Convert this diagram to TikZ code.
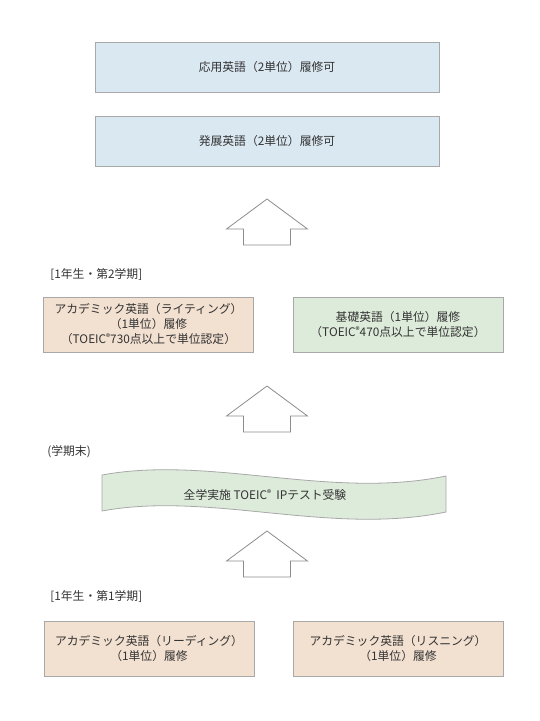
\documentclass[tikz,border=0pt]{standalone}
\usepackage{fontspec}
\setmainfont{Noto Sans CJK JP}
\definecolor{courseblue}{HTML}{DAE8F2}
\definecolor{coursepeach}{HTML}{F2E0D0}
\definecolor{coursegreen}{HTML}{DDEBDA}
\definecolor{edgegray}{HTML}{A8A8A8}
\definecolor{arrowgray}{HTML}{8C8C8C}
\definecolor{textgray}{HTML}{333333}
\newcommand{\regmark}{\raisebox{0.28em}{\fontsize{8.5}{8.5}\selectfont ®}}
\begin{document}
\begin{tikzpicture}[
  x = 1pt,
  y = -1pt,
  course/.style = {
    shape = rectangle,
    draw = edgegray,
    line width = 0.8pt,
    align = center,
    inner sep = 0pt,
    text = textgray,
    font = \fontsize{11.8}{15}\selectfont
  },
  upper/.style = {
    course,
    fill = courseblue,
    minimum width = 344pt,
    minimum height = 50pt
  },
  half/.style = {
    course,
    minimum width = 210pt,
    minimum height = 55pt
  },
  term/.style = {
    anchor = west,
    inner sep = 0pt,
    text = textgray,
    font = \fontsize{11.8}{14}\selectfont
  },
  every path/.style = {
    line width = 0.8pt
  }
]
  \useasboundingbox (0, 0) rectangle (540, 721);

  \node[upper] (applied) at (267, 67) {応用英語（2単位）履修可};
  \node[upper] (advanced) at (267, 141) {発展英語（2単位）履修可};

  \node[term] (term2) at (50, 275) {[1年生・第2学期]};
  \node[half, fill = coursepeach] (writing) at (148.5, 324.5)
    {アカデミック英語（ライティング）\\（1単位）履修\\（TOEIC\regmark730点以上で単位認定）};
  \node[half, fill = coursegreen] (basic) at (398, 324.5)
    {基礎英語（1単位）履修\\（TOEIC\regmark470点以上で単位認定）};

  \node[term] (termend) at (47, 452) {(学期末)};
  \draw[draw = edgegray, fill = coursegreen]
    (102, 475) .. controls (210, 455) and (330, 500) .. (446, 476)
    -- (446, 512) .. controls (330, 536) and (210, 491) .. (102, 511) -- cycle;
  \node[course, draw = none] (exam) at (265, 495)
    {全学実施 TOEIC\regmark\ \ IPテスト受験};

  \node[term] (term1) at (50, 597) {[1年生・第1学期]};
  \node[half, fill = coursepeach] (reading) at (149, 648.5)
    {アカデミック英語（リーディング）\\（1単位）履修};
  \node[half, fill = coursepeach] (listening) at (398, 648.5)
    {アカデミック英語（リスニング）\\（1単位）履修};

  % block arrows
  \foreach \ty/\name in {199/upA, 386/upB, 531/upC} {
    \coordinate (\name) at (267, \ty);
    \draw[draw = arrowgray, fill = white] (\name)
      -- ++(40.5, 30) -- ++(-17, 0) -- ++(0, 16) -- ++(-47, 0)
      -- ++(0, -16) -- ++(-17, 0) -- cycle;
  }
\end{tikzpicture}
\end{document}
